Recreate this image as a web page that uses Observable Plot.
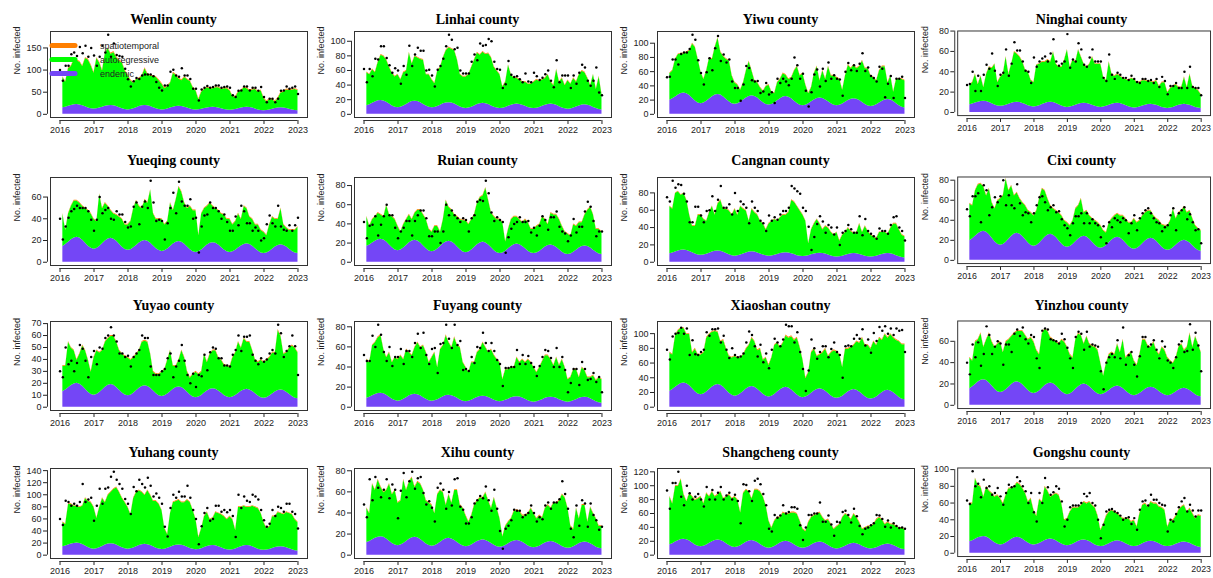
<!DOCTYPE html>
<html><head><meta charset="utf-8">
<script src="https://cdn.jsdelivr.net/npm/d3@7"></script>
<script src="https://cdn.jsdelivr.net/npm/@observablehq/plot@0.6"></script>
<style>
body{margin:0;background:#fff;overflow:hidden;}
#fig{position:relative;width:1213px;height:578px;overflow:hidden;background:#fff;}
.panel{position:absolute;}
.title{position:absolute;font-family:"Liberation Serif","Times New Roman",serif;font-weight:bold;font-size:14px;color:#000;white-space:nowrap;transform:translate(-50%,-50%);}
#err{position:absolute;left:400px;top:250px;color:red;font:12px sans-serif;}
</style></head><body><div id="fig"></div>
<script>
// ---------- categories ----------
const counties = ["Wenlin county","Linhai county","Yiwu county","Ninghai county",
  "Yueqing county","Ruian county","Cangnan county","Cixi county",
  "Yuyao county","Fuyang county","Xiaoshan coutny","Yinzhou county",
  "Yuhang county","Xihu county","Shangcheng county","Gongshu county"];
const startYear = 2016;             // observations monthly from Jan 2016 to Jan 2023
const xTickLabels = [2016,2017,2018,2019,2020,2021,2022,2023];
const yTickStep = [50,20,20,20, 20,20,20,20, 10,20,20,20, 20,20,20,20];
const spatioLevel = [2,1,1,0.7, 0.7,0.8,0.8,0.8, 0.7,0.8,1.2,0.8, 1.2,0.8,1.2,1];
const legendLabels = ["spatiotemporal","autoregressive","endemic"];

// ---------- observed counts (Jan 2016 .. Jan 2023) ----------
const wenlinObs=[100,76,110,110,136,140,132,152,138,155,130,150, 133,110,130,155,140,180,130,160,134,132,130,103, 79,63,75,82,80,88,90,90,90,86,73,60, 54,65,65,96,101,88,85,104,88,88,80,58, 58,31,56,60,64,60,62,65,65,60,62,63, 60,43,39,53,54,63,63,54,60,60,53,62, 39,27,35,35,27,35,53,54,63,58,60,63, 46];
const linhaiObs=[62,44,62,52,76,75,93,93,77,67,57,63, 60,42,66,54,94,66,82,91,87,87,60,61, 53,38,61,66,76,93,109,102,89,91,60,56, 56,56,72,82,74,97,94,95,103,100,72,62, 61,36,41,73,54,51,52,48,44,56,45,44, 57,52,47,50,55,60,46,37,74,44,53,53, 53,36,53,42,57,68,64,46,39,46,64,30, 26];
const yiwuObs=[52,53,77,77,70,85,87,87,92,112,105,76, 58,42,59,79,62,93,110,75,84,73,77,46, 37,37,19,42,68,65,48,46,47,30,32,44, 28,31,16,50,44,50,46,41,50,80,69,50, 57,33,11,31,56,63,39,64,47,73,50,55, 50,49,26,60,72,62,69,61,71,86,61,66, 54,51,46,67,64,24,43,54,23,50,50,53, 23];
const ninghaiObs=[27,28,40,21,36,21,37,47,43,58,41,26, 37,39,62,36,48,69,61,61,50,41,40,29, 54,45,50,53,55,50,58,72,50,46,48,50, 77,44,52,50,68,62,47,45,54,62,50,50, 50,34,31,57,37,33,39,37,34,34,32,36, 33,30,29,33,33,31,32,29,33,25,35,31, 18,26,26,29,24,24,40,24,45,25,24,24, 17];
const yueqingObs=[40,21,33,41,47,49,52,50,50,50,47,39, 29,39,60,45,48,50,40,39,47,44,44,37, 32,33,51,55,35,51,56,50,75,55,38,39, 38,21,36,50,64,45,74,56,52,52,58,40, 41,9,33,43,44,55,50,50,47,40,44,37, 29,29,42,34,52,47,36,36,29,32,29,20, 22,35,43,36,33,52,33,30,29,34,29,34, 41];
const ruianObs=[42,25,38,39,48,28,39,48,60,49,49,36, 25,32,36,43,43,28,43,49,54,54,46,27, 27,32,32,20,32,60,49,54,49,46,42,46, 44,32,46,49,63,65,64,85,72,52,43,47, 44,42,10,26,35,40,42,47,42,42,43,31, 36,28,38,48,44,34,47,47,53,37,32,30, 22,28,45,31,37,37,53,63,58,43,27,32, 32];
const cangnanObs=[75,70,94,86,90,89,79,70,46,46,64,64, 54,46,59,60,76,59,72,88,63,63,67,55, 80,59,70,67,63,45,70,63,59,48,45,36, 54,48,52,49,55,59,59,63,88,85,82,79, 63,59,41,14,29,44,53,47,34,43,40,32, 40,20,34,36,43,38,34,34,53,31,50,36, 33,30,27,39,36,36,33,43,52,53,40,36, 25];
const cixiObs=[51,44,64,64,67,38,75,70,45,53,63,58, 64,80,55,65,55,52,76,57,45,48,47,38, 47,55,63,64,58,50,53,55,48,49,41,35, 32,25,37,44,44,47,37,47,37,41,37,35, 23,34,17,38,33,42,40,38,42,40,27,37, 45,30,42,47,50,52,47,42,38,37,29,33, 35,45,52,30,47,50,53,41,46,38,30,31, 17];
const yuyaoObs=[30,25,50,36,39,30,37,52,49,39,25,42, 47,36,50,49,58,60,67,60,55,45,45,42, 43,34,42,45,48,60,58,58,34,27,27,27, 30,32,41,45,25,34,39,52,39,27,20,28, 17,27,26,44,31,46,50,49,41,41,35,35, 34,44,48,60,47,59,59,60,44,39,36,41, 38,40,45,48,45,69,62,42,47,51,60,51, 27];
const fuyangObs=[52,46,46,71,60,82,72,55,46,60,41,50, 50,58,43,56,56,50,64,73,59,74,52,43, 58,59,34,63,64,82,68,59,82,62,66,37, 38,36,50,44,60,59,74,64,56,64,56,47, 43,21,39,39,40,40,57,43,52,43,51,44, 40,31,41,50,57,56,49,40,59,40,50,37, 15,24,38,38,22,45,38,27,28,34,25,30, 15];
const xiaoshanObs=[78,65,96,100,101,108,100,107,71,91,72,71, 75,78,102,97,106,106,107,88,97,78,67,80, 71,68,69,73,88,103,98,83,69,85,61,73, 53,78,93,88,83,92,112,110,110,88,102,75, 52,22,50,92,80,66,75,83,83,68,79,88, 75,71,40,83,84,83,93,98,93,106,84,92, 74,101,90,109,104,110,100,107,98,107,104,105, 75];
const yinzhouObs=[40,29,57,45,59,37,48,74,66,48,55,60, 58,38,57,57,50,67,71,65,73,62,58,66, 64,44,35,70,72,71,62,61,60,58,67,62, 54,44,35,64,69,67,52,69,55,57,56,55, 32,15,40,45,48,45,61,44,73,38,47,50, 38,27,46,64,64,55,57,61,52,44,60,55, 42,40,35,45,57,60,50,51,76,52,68,56, 32];
const yuhangObs=[60,50,90,88,82,85,82,88,118,88,92,95, 57,82,110,85,110,112,130,138,125,118,110,93, 85,68,113,106,125,118,112,128,115,97,102,95, 85,47,31,78,100,95,105,97,97,115,95,75, 60,18,48,70,78,57,60,82,82,72,75,71, 75,65,30,100,78,97,90,88,100,97,92,75, 58,47,52,75,65,80,78,72,85,85,72,68, 44];
const xihuObs=[48,36,72,52,74,64,55,62,72,54,67,62, 35,61,78,55,70,79,63,73,74,59,48,51, 45,32,64,68,62,44,60,47,72,73,46,43, 30,30,36,49,52,56,54,65,52,42,62,44, 23,6,25,28,33,43,42,42,36,38,40,47, 40,32,36,34,47,50,44,50,50,53,70,58, 44,25,17,47,28,52,49,27,49,38,33,24, 27];
const shangchengObs=[93,67,104,104,120,84,72,100,89,80,84,88, 80,70,98,80,94,80,90,98,80,86,90,80, 87,78,46,102,101,92,78,107,110,102,88,72, 38,34,58,54,57,72,60,62,69,69,67,43, 22,40,58,58,60,60,76,48,48,57,44,28, 48,47,62,64,58,47,67,56,42,30,38,40, 43,46,58,57,52,41,50,40,46,42,39,40, 38];
const gongshuObs=[63,59,98,80,83,67,88,78,80,70,72,78, 68,58,72,82,79,80,91,86,80,74,60,72, 49,38,72,60,90,79,70,73,80,77,62,32, 40,55,57,57,57,60,71,68,72,60,57,40, 18,34,50,52,53,50,48,45,40,42,43,35, 42,28,52,62,63,57,70,64,64,60,58,57, 26,40,38,47,55,62,66,50,58,51,44,51, 51];

// ---------- fitted mean, all components (Feb 2016 .. Jan 2023) ----------
const wenlinFit=[85,75,105,110,125,122,120,110,128,125,112, 95,128,118,100,140,150,138,142,130,122,118,100, 90,78,72,80,82,88,105,92,88,88,85,78, 70,60,65,72,95,90,82,78,85,80,76,62, 55,35,52,58,62,60,60,62,62,58,60,60, 55,42,40,52,55,62,60,55,57,58,52,55, 38,30,35,35,30,38,50,52,57,56,57,58, 56];
const linhaiFit=[58,55,62,58,72,82,80,75,65,57,52, 55,48,58,60,85,70,80,78,76,75,55,55, 48,43,60,65,78,88,92,90,88,75,55,52, 52,55,65,75,85,82,86,83,84,78,65,60, 55,38,45,68,55,50,50,48,45,45,42,42, 45,48,46,48,50,55,45,40,62,45,50,40, 47,42,50,45,55,60,58,50,40,55,35,52, 28];
const yiwuFit=[58,62,78,85,86,86,88,90,100,95,78, 60,50,62,80,78,95,108,88,82,78,76,55, 45,42,35,45,62,75,62,48,45,38,33,40, 42,32,30,45,50,58,56,50,52,62,68,55, 58,42,30,38,58,68,48,62,50,68,55,55, 52,50,35,55,70,65,70,65,68,76,65,65, 55,52,48,62,68,68,45,55,32,50,50,50, 48];
const ninghaiFit=[27,30,38,28,36,25,38,45,44,48,30, 35,38,55,38,48,60,58,55,50,42,40,32, 30,47,48,50,50,52,50,60,48,45,45,52, 62,45,52,50,62,55,48,45,48,55,48,48, 48,35,32,50,38,36,38,36,34,33,32,34, 33,30,30,32,32,31,31,30,32,26,30,30, 20,24,26,28,25,25,35,25,38,26,24,22, 18];
const yueqingFit=[45,30,45,52,57,57,55,52,50,48,45, 40,38,63,50,55,52,48,45,44,42,40,35, 35,38,50,57,52,50,58,55,67,45,40,40, 40,35,38,55,48,58,70,65,55,50,52,48, 48,25,45,50,52,55,52,50,48,45,44,40, 40,35,38,45,40,52,50,42,40,35,35,30, 28,25,35,42,40,40,50,35,32,30,30,30, 33];
const ruianFit=[48,38,45,48,52,50,48,60,50,48,45, 38,32,40,45,50,45,52,55,55,50,45,35, 32,38,38,32,45,65,58,55,50,48,45,44, 44,40,45,50,62,68,70,78,65,52,48,45, 45,42,22,35,45,48,48,45,42,45,42,35, 35,38,40,48,45,40,52,50,50,45,38,32, 30,28,40,38,42,42,50,55,58,50,35,35, 32];
const cangnanFit=[65,62,80,82,78,80,72,55,42,42,55, 55,50,48,58,65,55,68,72,62,62,60,55, 62,55,65,62,60,48,62,58,55,48,45,38, 45,48,50,48,52,55,55,58,72,70,65,60, 55,48,22,38,45,50,45,38,42,40,35,32, 35,25,32,35,40,36,34,35,45,35,42,36, 32,30,28,35,35,35,33,40,45,45,38,32, 30];
const cixiFit=[57,55,70,76,77,74,65,72,58,52,60, 62,65,82,70,75,65,68,62,58,55,50,48, 45,50,62,72,70,62,55,52,50,48,45,40, 38,35,40,52,55,62,48,50,45,42,40,38, 35,30,28,38,42,45,47,45,45,42,38,38, 42,38,40,45,48,50,50,45,42,40,36,35, 35,40,52,42,48,50,54,48,50,42,35,32, 30];
const yuyaoFit=[35,35,55,50,48,40,45,52,48,40,30, 42,48,46,48,55,58,60,60,55,48,45,43, 42,40,42,45,48,55,56,55,45,30,28,28, 30,32,40,48,35,35,40,48,42,30,25,28, 30,28,30,45,38,45,48,48,42,40,36,35, 34,42,46,55,50,58,55,55,48,40,38,40, 38,40,42,46,46,65,60,45,46,50,52,50, 46];
const fuyangFit=[48,45,62,65,70,72,58,50,55,45,50, 48,52,48,58,55,52,60,65,60,62,55,45, 50,55,40,58,62,72,65,60,70,62,60,45, 40,35,45,45,55,58,65,60,55,58,52,48, 45,28,38,38,40,40,50,45,48,45,48,45, 40,35,40,46,52,52,48,42,50,42,48,40, 28,30,38,38,30,40,37,30,30,32,27,30, 28];
const xiaoshanFit=[75,72,98,105,108,108,100,100,75,80,72, 72,75,95,100,103,104,103,90,92,80,70,68, 70,68,68,72,80,85,95,90,78,80,65,68, 58,68,85,88,82,88,98,95,97,92,95,82, 65,40,48,75,80,70,72,75,80,70,75,78, 76,72,55,80,80,82,85,90,88,95,85,85, 80,90,85,95,92,100,95,100,95,92,90,86, 86];
const yinzhouFit=[45,42,60,62,68,55,62,68,60,55,58, 60,50,60,62,65,68,70,70,70,66,62,64, 60,52,48,68,72,70,64,62,60,58,62,60, 55,48,45,62,68,66,58,65,58,56,55,52, 40,28,40,48,50,48,58,50,62,45,48,50, 42,38,48,62,62,56,55,60,52,48,55,52, 45,42,40,45,55,58,52,55,68,55,65,58, 50];
const yuhangFit=[55,52,85,85,82,82,80,82,95,90,88, 80,62,80,95,88,100,105,110,113,105,95,88, 80,68,95,105,108,105,100,108,100,90,90,85, 75,45,35,70,88,90,92,88,88,92,88,75, 60,30,45,65,72,60,62,72,70,68,65,60, 65,60,42,80,80,82,80,80,82,80,78,70, 55,45,48,65,65,72,70,68,72,70,68,60, 55];
const xihuFit=[45,40,68,62,72,65,60,62,68,58,62, 50,52,72,62,70,74,65,70,68,62,52,50, 48,40,58,62,60,48,58,50,62,62,48,45, 38,32,38,48,52,55,55,60,52,45,55,45, 35,18,28,32,35,42,43,42,38,38,40,45, 40,35,38,36,45,48,45,50,50,52,58,55, 45,28,25,45,35,48,48,32,46,40,35,28, 28];
const shangchengFit=[85,75,100,100,110,88,78,90,85,80,82, 85,75,90,85,92,85,88,92,82,85,88,82, 85,80,62,90,95,92,82,95,95,92,85,72, 50,40,50,55,55,62,60,60,62,62,60,50, 38,35,48,55,58,60,62,55,50,52,45,38, 42,45,55,60,58,52,60,55,48,38,40,42, 42,45,52,55,52,45,48,45,45,42,40,40, 38];
const gongshuFit=[60,60,90,82,80,68,80,75,72,68,70, 66,60,70,78,78,80,85,83,78,72,62,66, 52,45,65,62,80,75,68,70,72,70,60,40, 42,50,55,55,55,58,62,60,62,58,55,45, 28,35,45,50,52,50,48,45,42,42,42,38, 40,32,48,58,60,56,62,60,60,56,55,52, 32,40,40,45,52,56,58,50,54,48,42,46, 45];

// ---------- endemic component (Feb 2016 .. Jan 2023) ----------
const wenlinEnd=[15,16,18,20,21.5,22,21.3,19.5,17,14.5,12.7,12, 12.6,14,16,18,19.4,20,19.3,17.5,15,12.5,10.7,10, 10.7,12.5,15,17.5,19.3,20,19.3,17.5,15,12.5,10.7,10, 10.6,12,14,16,17.4,18,17.4,16,14,12,10.6,10, 10.4,11.5,13,14.5,15.6,16,15.5,14.3,12.5,10.8,9.5,9, 9.5,10.8,12.5,14.3,15.5,16,15.4,14,12,10,8.6,8, 8.5,9.8,11.5,13.3,14.5,15,14.5,13.3,11.5,9.8,8.5,8];
const linhaiEnd=[11.6,13,15,17,18.4,19,18.3,16.5,14,11.5,9.7,9, 9.6,11.3,13.5,15.8,17.4,18,17.4,15.8,13.5,11.3,9.6,9, 9.5,10.8,12.5,14.3,15.5,16,15.4,14,12,10,8.6,8, 8.5,9.8,11.5,13.3,14.5,15,14.5,13.3,11.5,9.8,8.5,8, 8.4,9.5,11,12.5,13.6,14,13.6,12.5,11,9.5,8.4,8, 8.4,9.5,11,12.5,13.6,14,13.5,12.3,10.5,8.8,7.5,7, 7.4,8.5,10,11.5,12.6,13,12.5,11.3,9.5,7.8,6.5,6];
const yiwuEnd=[19.8,21.8,24.5,27.3,29.2,30,29,26.3,22.5,18.8,16,15, 15.9,18.3,21.5,24.8,27.1,28,27,24.5,21,17.5,15,14, 14.8,17,20,23,25.2,26,25.1,22.8,19.5,16.3,13.9,13, 13.8,16,19,22,24.2,25,24.1,21.8,18.5,15.3,12.9,12, 12.8,14.8,17.5,20.3,22.2,23,22.2,20.3,17.5,14.8,12.8,12, 12.7,14.5,17,19.5,21.3,22,21.2,19.3,16.5,13.8,11.8,11, 11.7,13.5,16,18.5,20.3,21,20.2,18,15,12,9.8,9];
const ninghaiEnd=[7.7,8.4,9.3,10.1,10.8,11,10.7,9.8,8.5,7.3,6.4,6, 6.3,7,8,9,9.7,10,9.7,8.9,7.8,6.6,5.8,5.5, 5.8,6.6,7.8,8.9,9.7,10,9.7,8.8,7.5,6.3,5.4,5, 5.3,6,7,8,8.7,9,8.7,8,7,6,5.3,5, 5.3,6,7,8,8.7,9,8.7,7.9,6.8,5.6,4.8,4.5, 4.7,5.4,6.3,7.1,7.8,8,7.7,7,6,5,4.3,4, 4.3,5,6,7,7.7,8,7.7,7,6,5,4.3,4];
const yueqingEnd=[14.6,16.3,18.5,20.8,22.4,23,22.2,20.3,17.5,14.8,12.8,12, 12.7,14.5,17,19.5,21.3,22,21.2,19.3,16.5,13.8,11.8,11, 11.6,13.3,15.5,17.8,19.4,20,19.3,17.5,15,12.5,10.7,10, 10.6,12.3,14.5,16.8,18.4,19,18.3,16.5,14,11.5,9.7,9, 9.6,11.3,13.5,15.8,17.4,18,17.4,15.8,13.5,11.3,9.6,9, 9.6,11,13,15,16.4,17,16.4,14.8,12.5,10.3,8.6,8, 8.6,10,12,14,15.4,16,15.4,14,12,10,8.6,8];
const ruianEnd=[16.6,18,20,22,23.4,24,23.2,21,18,15,12.8,12, 12.8,14.8,17.5,20.3,22.2,23,22.2,20,17,14,11.8,11, 11.8,13.8,16.5,19.3,21.2,22,21.2,19,16,13,10.8,10, 10.8,12.8,15.5,18.3,20.2,21,20.2,18,15,12,9.8,9, 9.7,11.5,14,16.5,18.3,19,18.3,16.5,14,11.5,9.7,9, 9.6,11.3,13.5,15.8,17.4,18,17.3,15.5,13,10.5,8.7,8, 8.6,10.3,12.5,14.8,16.4,17,16.4,14.8,12.5,10.3,8.6,8];
const cangnanEnd=[9.8,10.6,11.8,12.9,13.7,14,13.6,12.5,11,9.5,8.4,8, 8.4,9.3,10.5,11.8,12.7,13,12.6,11.5,10,8.5,7.4,7, 7.4,8.3,9.5,10.8,11.7,12,11.7,10.8,9.5,8.3,7.4,7, 7.3,8,9,10,10.7,11,10.7,9.9,8.8,7.6,6.8,6.5, 6.8,7.5,8.5,9.5,10.2,10.5,10.2,9.4,8.3,7.1,6.3,6, 6.3,7,8,9,9.7,10,9.7,9,8,7,6.3,6, 6.3,7,8,9,9.7,10,9.7,8.8,7.5,6.3,5.4,5];
const cixiEnd=[19.7,21.5,24,26.5,28.3,29,28,25.5,22,18.5,16,15, 15.8,18,21,24,26.2,27,26.1,23.8,20.5,17.3,14.9,14, 14.8,17,20,23,25.2,26,25.1,22.8,19.5,16.3,13.9,13, 13.8,15.8,18.5,21.3,23.2,24,23.2,21,18,15,12.8,12, 12.8,14.8,17.5,20.3,22.2,23,22.2,20,17,14,11.8,11, 11.8,13.8,16.5,19.3,21.2,22,21.2,19,16,13,10.8,10, 10.7,12.5,15,17.5,19.3,20,19.2,17.3,14.5,11.8,9.8,9];
const yuyaoEnd=[13,14.4,16.3,18.1,19.5,20,19.3,17.5,15,12.5,10.7,10, 10.6,12.3,14.5,16.8,18.4,19,18.3,16.6,14.3,11.9,10.2,9.5, 10.1,11.6,13.8,15.9,17.4,18,17.4,15.8,13.5,11.3,9.6,9, 9.6,11,13,15,16.4,17,16.4,14.8,12.5,10.3,8.6,8, 8.5,9.9,11.8,13.6,15,15.5,15,13.6,11.8,9.9,8.5,8, 8.5,9.8,11.5,13.3,14.5,15,14.5,13.1,11.3,9.4,8,7.5, 8,9.3,11,12.8,14,14.5,14,12.6,10.8,8.9,7.5,7];
const fuyangEnd=[8.9,9.9,11.3,12.6,13.6,14,13.4,12,10,8,6.6,6, 6.5,7.8,9.5,11.3,12.5,13,12.5,11.3,9.5,7.8,6.5,6, 6.4,7.5,9,10.5,11.6,12,11.5,10.4,8.8,7.1,6,5.5, 5.9,6.9,8.3,9.6,10.6,11,10.6,9.6,8.3,6.9,5.9,5.5, 5.9,6.8,8,9.3,10.2,10.5,10.1,9.1,7.8,6.4,5.4,5, 5.4,6.3,7.5,8.8,9.7,10,9.7,8.8,7.5,6.3,5.4,5, 5.4,6.3,7.5,8.8,9.7,10,9.6,8.5,7,5.5,4.4,4];
const xiaoshanEnd=[21.8,24,27,30,32.2,33,31.9,29,25,21,18.1,17, 18,20.5,24,27.5,30,31,29.9,27,23,19,16.1,15, 15.9,18.3,21.5,24.8,27.1,28,27,24.5,21,17.5,15,14, 14.9,17.3,20.5,23.8,26.1,27,26,23.5,20,16.5,14,13, 13.8,16,19,22,24.2,25,24.1,21.8,18.5,15.3,12.9,12, 12.8,15,18,21,23.2,24,23.1,20.8,17.5,14.3,11.9,11, 11.8,14,17,20,22.2,23,22.1,19.8,16.5,13.3,10.9,10];
const yinzhouEnd=[15.6,17.3,19.5,21.8,23.4,24,23.2,21,18,15,12.8,12, 12.7,14.5,17,19.5,21.3,22,21.2,19.3,16.5,13.8,11.8,11, 11.7,13.5,16,18.5,20.3,21,20.2,18.3,15.5,12.8,10.8,10, 10.7,12.5,15,17.5,19.3,20,19.3,17.5,15,12.5,10.7,10, 10.6,12,14,16,17.4,18,17.4,15.8,13.5,11.3,9.6,9, 9.6,11,13,15,16.4,17,16.4,15,13,11,9.6,9, 9.5,10.8,12.5,14.3,15.5,16,15.4,14,12,10,8.6,8];
const yuhangEnd=[14,15.1,16.8,18.4,19.5,20,19.3,17.5,15,12.5,10.7,10, 10.6,12.3,14.5,16.8,18.4,19,18.4,16.8,14.5,12.3,10.6,10, 10.6,12,14,16,17.4,18,17.4,15.9,13.8,11.6,10.1,9.5, 10,11.4,13.3,15.1,16.5,17,16.4,15,13,11,9.6,9, 9.5,10.8,12.5,14.3,15.5,16,15.5,14.1,12.3,10.4,9,8.5, 9,10.4,12.3,14.1,15.5,16,15.4,14,12,10,8.6,8, 8.4,9.5,11,12.5,13.6,14,13.5,12.3,10.5,8.8,7.5,7];
const xihuEnd=[11.9,13,14.5,16,17.1,17.5,16.9,15.4,13.3,11.1,9.6,9, 9.6,11,13,15,16.4,17,16.4,14.9,12.8,10.6,9.1,8.5, 9,10.4,12.3,14.1,15.5,16,15.4,14,12,10,8.6,8, 8.5,9.6,11.3,12.9,14,14.5,14,12.8,11,9.3,8,7.5, 8,9.1,10.8,12.4,13.5,14,13.5,12.3,10.5,8.8,7.5,7, 7.4,8.5,10,11.5,12.6,13,12.5,11.4,9.8,8.1,7,6.5, 6.9,8,9.5,11,12.1,12.5,12,10.9,9.3,7.6,6.5,6];
const shangchengEnd=[15.1,16.6,18.8,20.9,22.4,23,22.2,20.3,17.5,14.8,12.8,12, 12.7,14.5,17,19.5,21.3,22,21.2,19.3,16.5,13.8,11.8,11, 11.7,13.5,16,18.5,20.3,21,20.2,18.3,15.5,12.8,10.8,10, 10.7,12.5,15,17.5,19.3,20,19.3,17.5,15,12.5,10.7,10, 10.6,12.3,14.5,16.8,18.4,19,18.3,16.5,14,11.5,9.7,9, 9.6,11,13,15,16.4,17,16.4,15,13,11,9.6,9, 9.5,10.8,12.5,14.3,15.5,16,15.4,14,12,10,8.6,8];
const gongshuEnd=[14,15.1,16.8,18.4,19.5,20,19.3,17.5,15,12.5,10.7,10, 10.6,12.3,14.5,16.8,18.4,19,18.4,16.8,14.5,12.3,10.6,10, 10.5,11.8,13.5,15.3,16.5,17,16.4,15,13,11,9.6,9, 9.5,10.8,12.5,14.3,15.5,16,15.4,14,12,10,8.6,8, 8.5,9.8,11.5,13.3,14.5,15,14.5,13.3,11.5,9.8,8.5,8, 8.5,9.6,11.3,12.9,14,14.5,14,12.9,11.3,9.6,8.5,8, 8.4,9.4,10.8,12.1,13.1,13.5,13,11.9,10.3,8.6,7.5,7];

const obsList=[wenlinObs,linhaiObs,yiwuObs,ninghaiObs,yueqingObs,ruianObs,cangnanObs,cixiObs,yuyaoObs,fuyangObs,xiaoshanObs,yinzhouObs,yuhangObs,xihuObs,shangchengObs,gongshuObs];
const fitList=[wenlinFit,linhaiFit,yiwuFit,ninghaiFit,yueqingFit,ruianFit,cangnanFit,cixiFit,yuyaoFit,fuyangFit,xiaoshanFit,yinzhouFit,yuhangFit,xihuFit,shangchengFit,gongshuFit];
const endList=[wenlinEnd,linhaiEnd,yiwuEnd,ninghaiEnd,yueqingEnd,ruianEnd,cangnanEnd,cixiEnd,yuyaoEnd,fuyangEnd,xiaoshanEnd,yinzhouEnd,yuhangEnd,xihuEnd,shangchengEnd,gongshuEnd];

// ---------- style / layout ----------
const PURPLE="#7446f6", GREEN="#00ff00", ORANGE="#ff7f00";
const panelLeft=[0,304,607,908];
const frameTop=[31,177,321,468];
const frameBottom=[117,265,410,558];
const titleY=[20,161,306,453];
const ML=50, MR=3, MT=31, MB=22, FW=257;

const fig=document.getElementById("fig");
const errs=[];
counties.forEach((name,i)=>{
  const col=i%4, row=Math.floor(i/4);
  const obs=obsList[i], fit=fitList[i], end=endList[i];
  if(obs.length!==85||fit.length!==84||end.length!==84) errs.push(name+" "+obs.length+"/"+fit.length+"/"+end.length);
  const obsRows=obs.map((v,k)=>({t:startYear+k/12,v}));
  const fitRows=fit.map((v,k)=>({t:startYear+(k+1)/12,fit:v,end:end[k],st:spatioLevel[i]}));
  const M=d3.max(obs);
  const yDom=[-0.04*M,1.04*M];
  const xDom=[2016-0.28,2023+0.28];
  const yTicks=d3.range(0,yDom[1]+1e-9,yTickStep[i]);
  const fh=frameBottom[row]-frameTop[row];
  const svg=Plot.plot({
    width:ML+FW+MR, height:MT+fh+MB,
    marginLeft:ML, marginRight:MR, marginTop:MT, marginBottom:MB,
    x:{domain:xDom, axis:null},
    y:{domain:yDom, axis:null},
    style:{fontFamily:"'Liberation Sans',Arial,sans-serif",fontSize:"9px",background:"transparent",overflow:"visible",color:"#222"},
    marks:[
      Plot.areaY(fitRows,{x:"t",y1:0,y2:"end",fill:PURPLE}),
      Plot.areaY(fitRows,{x:"t",y1:"end",y2:d=>d.fit-d.st,fill:GREEN}),
      Plot.areaY(fitRows,{x:"t",y1:d=>d.fit-d.st,y2:"fit",fill:ORANGE}),
      Plot.dot(obsRows,{x:"t",y:"v",r:1.25,fill:"#000",stroke:null}),
      Plot.frame({stroke:"#333"}),
      Plot.axisY({ticks:yTicks,tickSize:4,tickPadding:2,dx:-3,label:null,fontSize:9}),
      Plot.ruleX([xDom[0]],{y1:0,y2:yTicks[yTicks.length-1],dx:-3,stroke:"#333"}),
      Plot.axisX({ticks:xTickLabels,tickSize:4,tickPadding:2,dy:3,label:null,tickFormat:d=>String(d),fontSize:9}),
      Plot.ruleY([yDom[0]],{x1:2016,x2:2023,dy:3,stroke:"#333"}),
      Plot.text(["No. infected"],{frameAnchor:"left",rotate:-90,dx:-33,fontSize:9,fill:"#222"})
    ]
  });
  const wrap=document.createElement("div");
  wrap.className="panel";
  wrap.style.left=panelLeft[col]+"px";
  wrap.style.top=(frameTop[row]-MT)+"px";
  wrap.appendChild(svg);
  fig.appendChild(wrap);
  const t=document.createElement("div");
  t.className="title";
  t.textContent=name;
  t.style.left=(panelLeft[col]+ML+FW/2-5)+"px";
  t.style.top=titleY[row]+"px";
  fig.appendChild(t);
});

// legend inside Wenlin panel
const legColors=[ORANGE,GREEN,PURPLE];
const ns="http://www.w3.org/2000/svg";
const leg=document.createElementNS(ns,"svg");
leg.setAttribute("width","160");leg.setAttribute("height","50");
leg.style.position="absolute";leg.style.left="50px";leg.style.top="38px";leg.style.overflow="visible";
legendLabels.forEach((lab,k)=>{
  const y=7.5+k*14;
  const ln=document.createElementNS(ns,"line");
  ln.setAttribute("x1","2");ln.setAttribute("x2","25");
  ln.setAttribute("y1",y);ln.setAttribute("y2",y);
  ln.setAttribute("stroke",legColors[k]);ln.setAttribute("stroke-width","5");
  ln.setAttribute("stroke-linecap","round");
  leg.appendChild(ln);
  const tx=document.createElementNS(ns,"text");
  tx.setAttribute("x","50");tx.setAttribute("y",y+3);
  tx.setAttribute("font-family","'Liberation Sans',Arial,sans-serif");
  tx.setAttribute("font-size","9");tx.setAttribute("fill","#222");
  tx.textContent=lab;
  leg.appendChild(tx);
});
fig.appendChild(leg);
if(errs.length){const e=document.createElement("div");e.id="err";e.textContent=errs.join("; ");fig.appendChild(e);}
</script></body></html>
